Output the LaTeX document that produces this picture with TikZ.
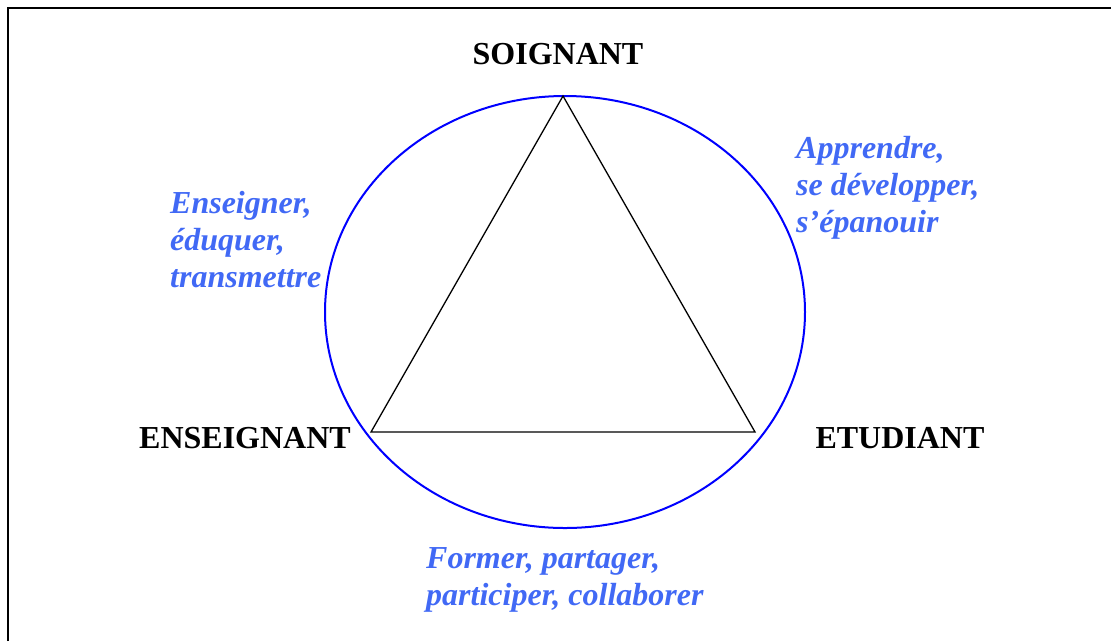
\documentclass[tikz,border=0pt]{standalone}
\usepackage{fontspec}
\setmainfont{Liberation Serif}
\definecolor{verbblue}{RGB}{65,105,245}
\tikzset{
  role/.style={inner sep=0pt, font=\fontsize{32}{37}\selectfont\bfseries},
  verbs/.style={inner sep=0pt, align=left, text=verbblue,
    font=\fontsize{32}{37}\selectfont\bfseries\itshape}
}

\begin{document}
\begin{tikzpicture}[x=1pt,y=1pt]

% Page size
\useasboundingbox (0,0) rectangle (1111,-641);

% Define radii of the ellipse
\pgfmathsetmacro{\rx}{240}
\pgfmathsetmacro{\ry}{216}

% Center of ellipse
\coordinate (O) at (565,-312);

% Corners of the triangle
\coordinate (S) at (563,-96);
\coordinate (E) at (371,-432);
\coordinate (T) at (755,-432);

% Frame (top and left edges)
\draw[line width=2pt] (8,-641) -- (8,-7.5) -- (1111,-7.5);

% Draw ellipse
\draw[blue, line width=2pt] (O) ellipse ({\rx} and {\ry});

% Draw triangle
\draw[line width=1.3pt] (S) -- (E) -- (T) -- cycle;

% Labels at the corners
\node[role, anchor=base] (soignant) at (558,-64) {SOIGNANT};
\node[role, anchor=base] (enseignant) at (245,-448) {ENSEIGNANT};
\node[role, anchor=base] (etudiant) at (900,-448) {ETUDIANT};

% Verbs on each side (base = last line)
\node[verbs, anchor=base west] (enseigner) at (170,-287)
  {Enseigner,\\éduquer,\\transmettre};
\node[verbs, anchor=base west] (apprendre) at (796,-232)
  {Apprendre,\\se développer,\\s’épanouir};
\node[verbs, anchor=base west] (former) at (426,-605)
  {Former, partager,\\participer, collaborer};

\end{tikzpicture}
\end{document}
